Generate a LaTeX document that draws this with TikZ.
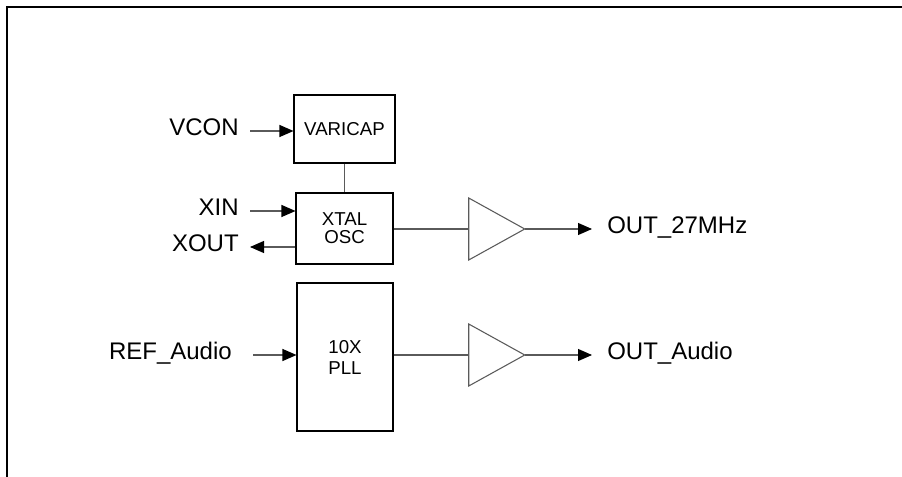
\documentclass[tikz,border=0pt]{standalone}
\usepackage{fontspec}
\setmainfont{Liberation Sans}
\usetikzlibrary{arrows.meta,shapes.geometric}
\definecolor{linegray}{RGB}{90,90,90}
\begin{document}
\begin{tikzpicture}[x=0.75pt,y=-0.75pt,
  blk/.style={draw=black,line width=0.8pt,rectangle,inner sep=0pt,align=center,font=\fontsize{14}{13.5}\selectfont},
  lbl/.style={inner sep=0pt,text height=0.716em,text depth=0pt,font=\fontsize{18}{20}\selectfont},
  amp/.style={draw=linegray,line width=0.8pt,isosceles triangle,isosceles triangle stretches,
    minimum width=46.5pt,minimum height=42pt,inner sep=0pt,outer sep=0pt,shape border rotate=0},
  wire/.style={draw=linegray,line width=0.8pt},
  arr/.style={wire,-{Triangle[length=10.5pt,width=9pt,color=black]}}]
\useasboundingbox (0,0) rectangle (902,477);
\draw[line width=1.6pt] (7,477) -- (7,7) -- (902,7);

\node[blk,minimum width=75.75pt,minimum height=51pt] (vari) at (344.5,129) {VARICAP};
\node[blk,minimum width=72.75pt,minimum height=53.25pt] (xtal) at (344.5,228.5) {XTAL\\OSC};
\node[blk,minimum width=72pt,minimum height=111pt,font=\fontsize{14}{15.75}\selectfont] (pll) at (345,357) {10X\\PLL};

\node[amp] (amp1) at (487,229) {};
\node[amp] (amp2) at (487,355) {};

\node[lbl,anchor=east] (vcon) at (239,131) {VCON};
\node[lbl,anchor=east] (xin) at (239,211) {XIN};
\node[lbl,anchor=east] (xout) at (239,247) {XOUT};
\node[lbl,anchor=east] (ref) at (232,355) {REF\_Audio};
\node[lbl,anchor=west] (o27) at (607,229) {OUT\_27MHz};
\node[lbl,anchor=west] (oaud) at (607,355) {OUT\_Audio};

\coordinate (vconS) at (250,131);
\coordinate (xinS) at (250,211);
\coordinate (xoutE) at (250,247);
\coordinate (refS) at (253,355);
\coordinate (o27E) at (592,229);
\coordinate (oaudE) at (592,355);

\draw[arr] (vconS) -- (vconS -| vari.west);
\draw[arr] (xinS) -- (xinS -| xtal.west);
\draw[arr] (xoutE -| xtal.west) -- (xoutE);
\draw[arr] (refS) -- (refS -| pll.west);
\draw[wire] (vari.south) -- (xtal.north);
\draw[wire] (amp1.west -| xtal.east) -- (amp1.west);
\draw[wire] (amp2.west -| pll.east) -- (amp2.west);
\draw[arr] (amp1.east) -- (o27E);
\draw[arr] (amp2.east) -- (oaudE);
\end{tikzpicture}
\end{document}
